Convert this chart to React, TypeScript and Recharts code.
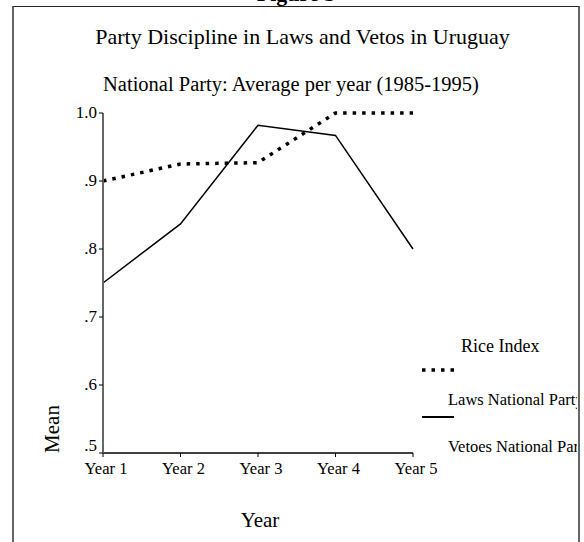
import React from 'react';
import { LineChart, Line, XAxis, YAxis } from 'recharts';

const years = ['Year 1', 'Year 2', 'Year 3', 'Year 4', 'Year 5'];
const lawsNational = [0.9, 0.925, 0.927, 1.0, 1.0];
const vetoesNational = [0.75, 0.837, 0.982, 0.967, 0.8];
const meanTicks = [0.5, 0.6, 0.7, 0.8, 0.9, 1.0];
const seriesNames = ['Laws National Party', 'Vetoes National Party'];
const legendTitle = 'Rice Index';

const data = years.map((year, i) => ({
  year,
  laws: lawsNational[i],
  vetoes: vetoesNational[i],
}));

const FONT = '"Liberation Serif", "Times New Roman", serif';
const DOTS = '3.5 6';

const fmtMean = (v: number) => (v >= 1 ? v.toFixed(1) : v.toFixed(1).replace(/^0/, ''));

// SPSS-style legend: sample line sits above its label, clipped by the frame
const LegendBox = () => (
  <div
    style={{
      position: 'absolute',
      left: 420,
      top: 333,
      width: 157,
      height: 130,
      fontFamily: FONT,
      color: '#000',
      overflow: 'hidden',
    }}
  >
    <div style={{ position: 'absolute', left: 41, top: 3, fontSize: 18, lineHeight: '20px', whiteSpace: 'nowrap' }}>
      {legendTitle}
    </div>
    {seriesNames.map((name, i) => (
      <React.Fragment key={name}>
        <svg style={{ position: 'absolute', left: 2, top: 32 + i * 47 }} width={34} height={10}>
          <line
            x1={0}
            y1={5}
            x2={32}
            y2={5}
            stroke="#000"
            strokeWidth={i === 0 ? 3.5 : 2}
            strokeDasharray={i === 0 ? DOTS : undefined}
          />
        </svg>
        <div
          style={{
            position: 'absolute',
            left: 28,
            top: 58 + i * 47,
            fontSize: 16.5,
            lineHeight: '18px',
            whiteSpace: 'nowrap',
          }}
        >
          {name}
        </div>
      </React.Fragment>
    ))}
  </div>
);

const MeanTick = ({ x, y, payload }: any) => {
  const shift = payload.value === 0.5 ? -7 : 0;
  return (
    <text x={x} y={y + shift} dy={5} textAnchor="end" fontSize={17} fontFamily={FONT} fill="#000">
      {fmtMean(payload.value)}
    </text>
  );
};

export default function App() {
  return (
    <div style={{ position: 'absolute', left: 0, top: 0, width: 584, height: 542, overflow: 'hidden', background: '#fff' }}>
      <div
        style={{
          position: 'absolute',
          left: 12,
          top: 6,
          width: 564,
          height: 560,
          borderTop: '1.5px solid #222',
          borderLeft: '2px solid #666',
          borderRight: '2px solid #666',
        }}
      />
      <div
        style={{
          position: 'absolute',
          left: 0,
          width: 592,
          top: -17,
          textAlign: 'center',
          fontFamily: FONT,
          fontWeight: 'bold',
          fontSize: 22,
          lineHeight: '22px',
        }}
      >
        Figure 5
      </div>
      <div
        style={{
          position: 'absolute',
          left: 0,
          width: 605,
          top: 26,
          textAlign: 'center',
          fontFamily: FONT,
          fontSize: 22,
          lineHeight: '22px',
        }}
      >
        Party Discipline in Laws and Vetos in Uruguay
      </div>
      <div
        style={{
          position: 'absolute',
          left: 0,
          width: 582,
          top: 74,
          textAlign: 'center',
          fontFamily: FONT,
          fontSize: 20.5,
          lineHeight: '21px',
        }}
      >
        National Party: Average per year (1985-1995)
      </div>
      <div
        style={{
          position: 'absolute',
          left: 52,
          top: 429,
          transform: 'translate(-50%, -50%) rotate(-90deg)',
          fontFamily: FONT,
          fontSize: 21,
          whiteSpace: 'nowrap',
        }}
      >
        Mean
      </div>
      <div
        style={{
          position: 'absolute',
          left: 260,
          top: 520,
          transform: 'translate(-50%, -50%)',
          fontFamily: FONT,
          fontSize: 21,
          whiteSpace: 'nowrap',
        }}
      >
        Year
      </div>
      <div style={{ position: 'absolute', left: 0, top: 0 }}>
        <LineChart width={584} height={542} data={data} margin={{ top: 113, right: 171, bottom: 59, left: 43 }}>
          <XAxis
            dataKey="year"
            height={30}
            axisLine={{ stroke: '#000', strokeWidth: 1.5 }}
            tickLine={{ stroke: '#000', strokeWidth: 1 }}
            tickSize={4}
            tickMargin={5}
            tick={{ fontSize: 16.5, fontFamily: FONT, fill: '#000', dx: 3 }}
          />
          <YAxis
            width={60}
            domain={[0.5, 1.0]}
            ticks={meanTicks}
            axisLine={{ stroke: '#666', strokeWidth: 2 }}
            tickLine={{ stroke: '#000', strokeWidth: 1 }}
            tickSize={4}
            tickMargin={2}
            tick={<MeanTick />}
          />
          <Line
            name={seriesNames[0]}
            dataKey="laws"
            stroke="#000"
            strokeWidth={3.5}
            strokeDasharray={DOTS}
            dot={false}
            isAnimationActive={false}
          />
          <Line
            name={seriesNames[1]}
            dataKey="vetoes"
            stroke="#000"
            strokeWidth={1.5}
            dot={false}
            isAnimationActive={false}
          />
        </LineChart>
      </div>
      <LegendBox />
    </div>
  );
}
